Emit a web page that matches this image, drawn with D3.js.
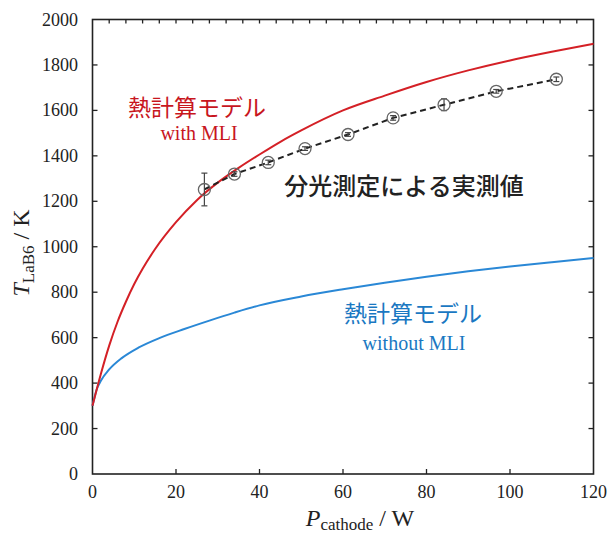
<!DOCTYPE html>
<html lang="ja">
<head>
  <meta charset="UTF-8" />
  <title>LaB6 temperature vs cathode power</title>
  <script src="https://d3js.org/d3.v7.min.js"></script>
  <style>
    body { margin: 0; background: white; }
    svg { display: block; background: white; }
    .tick-label { font-family: "Liberation Serif", "Times New Roman", serif; font-size: 18px; fill: #222; }
    .jp { font-family: "Noto Sans CJK JP", sans-serif; }
    .serif { font-family: "Liberation Serif", "Times New Roman", serif; }
  </style>
</head>
<body>
  <svg width="608" height="536"></svg>
  <script>
    // model curve with MLI (P [W], T [K])
    const withMliP = [0, 2, 4, 6, 8, 10, 12, 15, 20, 25, 30, 35, 40, 45, 50, 60, 70, 80, 90, 100, 110, 120];
    const withMliT = [300, 440, 565, 670, 758, 836, 903, 990, 1108, 1205, 1282, 1347, 1406, 1462, 1512, 1600, 1665, 1725, 1776, 1820, 1858, 1893];

    // model curve without MLI
    const noMliP = [0, 1, 2, 4, 7, 11, 16, 22, 28, 34, 40, 50, 60, 70, 80, 90, 100, 110, 120];
    const noMliT = [300, 372, 410, 460, 510, 556, 598, 638, 675, 710, 742, 781, 813, 842, 868, 892, 913, 932, 950];

    // spectroscopic measurements
    const measP = [26.8, 34.0, 42.1, 50.9, 61.2, 72.0, 84.2, 96.7, 111.1];
    const measT = [1252, 1320, 1371, 1432, 1494, 1567, 1625, 1684, 1737];
    const measErr = [72, 10, 10, 8, 8, 10, 26, 8, 10];

    const xTicks = [0, 20, 40, 60, 80, 100, 120];
    const yTicks = [0, 200, 400, 600, 800, 1000, 1200, 1400, 1600, 1800, 2000];

    const svg = d3.select("svg");
    const x = d3.scaleLinear().domain([0, 120]).range([92.5, 593.5]);
    const y = d3.scaleLinear().domain([0, 2000]).range([474, 19.5]);

    const red = "#d42026", blue = "#2a88d6";

    // frame
    svg.append("rect")
      .attr("x", x(0)).attr("y", y(2000))
      .attr("width", x(120) - x(0)).attr("height", y(0) - y(2000))
      .attr("fill", "none").attr("stroke", "#222").attr("stroke-width", 1.6);

    // inward ticks
    const tickG = svg.append("g").attr("stroke", "#222").attr("stroke-width", 1.3);
    xTicks.slice(1, -1).forEach(t => {
      tickG.append("line").attr("x1", x(t)).attr("x2", x(t)).attr("y1", y(0)).attr("y2", y(0) - 5);
    });
    d3.range(4, 120, 4).forEach(t => {
      tickG.append("line").attr("x1", x(t)).attr("x2", x(t)).attr("y1", y(2000)).attr("y2", y(2000) + 4);
    });
    yTicks.slice(1, -1).forEach(t => {
      tickG.append("line").attr("x1", x(0)).attr("x2", x(0) + 5).attr("y1", y(t)).attr("y2", y(t));
      tickG.append("line").attr("x1", x(120)).attr("x2", x(120) - 5).attr("y1", y(t)).attr("y2", y(t));
    });

    // tick labels
    svg.selectAll(".xl").data(xTicks).enter().append("text")
      .attr("class", "tick-label").attr("x", d => x(d)).attr("y", 498)
      .attr("text-anchor", "middle").text(d => d);
    svg.selectAll(".yl").data(yTicks).enter().append("text")
      .attr("class", "tick-label").attr("x", 78).attr("y", d => y(d) + 6)
      .attr("text-anchor", "end").text(d => d);

    // axis titles
    const xt = svg.append("text").attr("class", "serif").attr("x", 360).attr("y", 526)
      .attr("text-anchor", "middle").attr("fill", "#222");
    xt.append("tspan").attr("font-style", "italic").attr("font-size", 24).text("P");
    xt.append("tspan").attr("font-size", 17).attr("dy", 4).text("cathode");
    xt.append("tspan").attr("font-size", 24).attr("dy", -4).text(" / W");

    const yt = svg.append("text").attr("class", "serif")
      .attr("transform", "translate(29,253) rotate(-90)")
      .attr("text-anchor", "middle").attr("fill", "#222");
    yt.append("tspan").attr("font-style", "italic").attr("font-size", 24).text("T");
    yt.append("tspan").attr("font-size", 17).attr("dy", 5).text("LaB6");
    yt.append("tspan").attr("font-size", 24).attr("dy", -5).text(" / K");

    const line = d3.line().x(d => x(d[0])).y(d => y(d[1])).curve(d3.curveMonotoneX);

    svg.append("path").datum(noMliP.map((p, i) => [p, noMliT[i]]))
      .attr("d", line).attr("fill", "none").attr("stroke", blue).attr("stroke-width", 2);
    svg.append("path").datum(withMliP.map((p, i) => [p, withMliT[i]]))
      .attr("d", line).attr("fill", "none").attr("stroke", red).attr("stroke-width", 2);

    // measured data
    const meas = measP.map((p, i) => ({ p, t: measT[i], e: measErr[i] }));
    svg.append("path").datum(meas.map(d => [d.p, d.t]))
      .attr("d", d3.line().x(d => x(d[0])).y(d => y(d[1])))
      .attr("fill", "none").attr("stroke", "#222").attr("stroke-width", 2)
      .attr("stroke-dasharray", "6,4");
    const eb = svg.append("g").attr("stroke", "#444").attr("stroke-width", 1.2);
    meas.forEach(d => {
      eb.append("line").attr("x1", x(d.p)).attr("x2", x(d.p)).attr("y1", y(d.t - d.e)).attr("y2", y(d.t + d.e));
      [d.t - d.e, d.t + d.e].forEach(v => {
        eb.append("line").attr("x1", x(d.p) - 3).attr("x2", x(d.p) + 3).attr("y1", y(v)).attr("y2", y(v));
      });
    });
    svg.selectAll(".pt").data(meas).enter().append("circle")
      .attr("cx", d => x(d.p)).attr("cy", d => y(d.t)).attr("r", 6)
      .attr("fill", "none").attr("stroke", "#666").attr("stroke-width", 1.3);

    // annotations
    svg.append("text").attr("class", "jp").attr("x", 197).attr("y", 116)
      .attr("text-anchor", "middle").attr("font-size", 23).attr("fill", "#c8161e").text("熱計算モデル");
    svg.append("text").attr("class", "serif").attr("x", 199).attr("y", 140)
      .attr("text-anchor", "middle").attr("font-size", 20).attr("fill", "#c8161e").text("with MLI");
    svg.append("text").attr("class", "jp").attr("x", 404).attr("y", 195)
      .attr("text-anchor", "middle").attr("font-size", 24).attr("font-weight", 500).attr("fill", "#222").text("分光測定による実測値");
    svg.append("text").attr("class", "jp").attr("x", 413).attr("y", 322)
      .attr("text-anchor", "middle").attr("font-size", 23).attr("fill", "#1a78c2").text("熱計算モデル");
    svg.append("text").attr("class", "serif").attr("x", 414).attr("y", 350)
      .attr("text-anchor", "middle").attr("font-size", 20).attr("fill", "#1a78c2").text("without MLI");
  </script>
</body>
</html>
